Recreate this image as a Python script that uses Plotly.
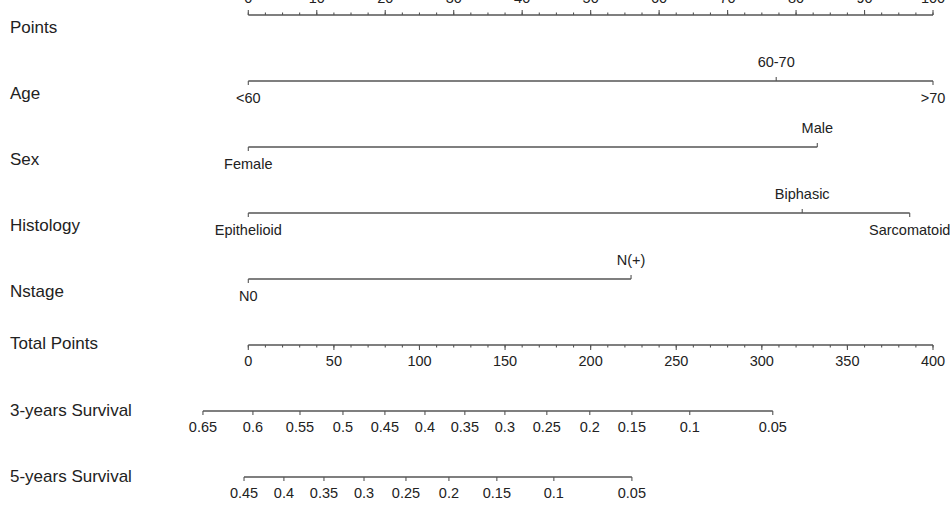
import plotly.graph_objects as go
import numpy as np

# ---- data ----
rows = ["Points", "Age", "Sex", "Histology", "Nstage", "Total Points",
        "3-years Survival", "5-years Survival"]

points_ticks = list(range(0, 101, 10))
points_minor = list(np.arange(0, 100.01, 2.5))

age_levels = ["<60", "60-70", ">70"]
age_points = [0, 77.1, 100]

sex_levels = ["Female", "Male"]
sex_points = [0, 83.1]

hist_levels = ["Epithelioid", "Biphasic", "Sarcomatoid"]
hist_points = [0, 80.9, 96.6]

n_levels = ["N0", "N(+)"]
n_points = [0, 55.9]

total_ticks = list(range(0, 401, 50))
total_minor = list(range(0, 401, 10))
TOTAL_MAX = 400
POINTS_MAX = 100

surv3_labels = ["0.65", "0.6", "0.55", "0.5", "0.45", "0.4", "0.35", "0.3",
                "0.25", "0.2", "0.15", "0.1", "0.05"]
surv3_total = [-26.5, 2.7, 30.2, 55.3, 79.8, 103.2, 126.5, 149.9, 174.4,
               199.5, 224.1, 257.9, 306.4]

surv5_labels = ["0.45", "0.4", "0.35", "0.3", "0.25", "0.2", "0.15", "0.1", "0.05"]
surv5_total = [-2.5, 20.8, 44.2, 67.6, 92.1, 117.2, 145.2, 178.5, 224.1]

# ---- layout helpers ----
ROW_PX = 66.0
def px(v):
    return v / ROW_PX

def tot2pts(t):
    return [v * POINTS_MAX / TOTAL_MAX for v in t]

LINE = "#555555"
TXT = "#222222"
FONT = "Liberation Sans, Arial, sans-serif"
SMALL = 14.5
BIG = 17
ROW_LABEL_SHIFT_PX = [14, 14, 14, 14, 14, 0, 1, 1]

fig = go.Figure()

def hline(x0, x1, r):
    fig.add_trace(go.Scatter(x=[x0, x1], y=[r, r], mode="lines",
                             line=dict(color=LINE, width=1.3),
                             hoverinfo="skip", showlegend=False))

def ticks(xs, r, length_px, direction):
    xx, yy = [], []
    for x in xs:
        xx += [x, x, None]
        yy += [r, r + direction * px(length_px), None]
    fig.add_trace(go.Scatter(x=xx, y=yy, mode="lines",
                             line=dict(color=LINE, width=1.1),
                             hoverinfo="skip", showlegend=False))

def labels(xs, texts, r, offsets_px):
    fig.add_trace(go.Scatter(x=xs, y=[r + px(o) for o in offsets_px],
                             mode="text", text=texts,
                             textposition="middle center",
                             textfont=dict(family=FONT, size=SMALL, color=TXT),
                             hoverinfo="skip", showlegend=False))

# row 0: Points (ticks up, labels above)
r = 0
hline(0, POINTS_MAX, r)
ticks(points_minor, r, 2.5, -1)
ticks(points_ticks, r, 5, -1)
labels(points_ticks, [str(v) for v in points_ticks], r, [-16] * len(points_ticks))

# categorical rows
def cat_row(r, pts, levs):
    hline(min(pts), max(pts), r)
    for i, (p, l) in enumerate(zip(pts, levs)):
        d = 1 if i % 2 == 0 else -1
        ticks([p], r, 4, d)
    labels(pts, levs, r, [18 if i % 2 == 0 else -18 for i in range(len(pts))])

cat_row(1, age_points, age_levels)
cat_row(2, sex_points, sex_levels)
cat_row(3, hist_points, hist_levels)
cat_row(4, n_points, n_levels)

# Total points
r = 5
tx = tot2pts(total_ticks)
hline(0, POINTS_MAX, r)
ticks(tot2pts(total_minor), r, 2.5, 1)
ticks(tx, r, 5, 1)
labels(tx, [str(v) for v in total_ticks], r, [17] * len(tx))

# survival rows
for r, tot, labs in [(6, surv3_total, surv3_labels), (7, surv5_total, surv5_labels)]:
    xs = tot2pts(tot)
    hline(min(xs), max(xs), r)
    ticks(xs, r, 4, 1)
    labels(xs, labs, r, [17] * len(xs))

# row names
X0_PX = 248.3
X1_PX = 933.0
ppx = POINTS_MAX / (X1_PX - X0_PX)
xmin = -X0_PX * ppx
xmax = POINTS_MAX + (950 - X1_PX) * ppx
fig.add_trace(go.Scatter(x=[xmin + 10 * ppx] * len(rows),
                         y=[i + px(s) for i, s in enumerate(ROW_LABEL_SHIFT_PX)],
                         mode="text", text=rows, textposition="middle right",
                         textfont=dict(family=FONT, size=BIG, color=TXT),
                         hoverinfo="skip", showlegend=False))

TOP_PX = 15
ymin = -TOP_PX / ROW_PX
ymax = (506 - TOP_PX) / ROW_PX

fig.update_layout(
    width=950, height=506,
    margin=dict(l=0, r=0, t=0, b=0),
    paper_bgcolor="white", plot_bgcolor="white",
    xaxis=dict(range=[xmin, xmax], visible=False, fixedrange=True),
    yaxis=dict(range=[ymax, ymin], visible=False, fixedrange=True),
    showlegend=False,
)

fig.write_html("out.html")
